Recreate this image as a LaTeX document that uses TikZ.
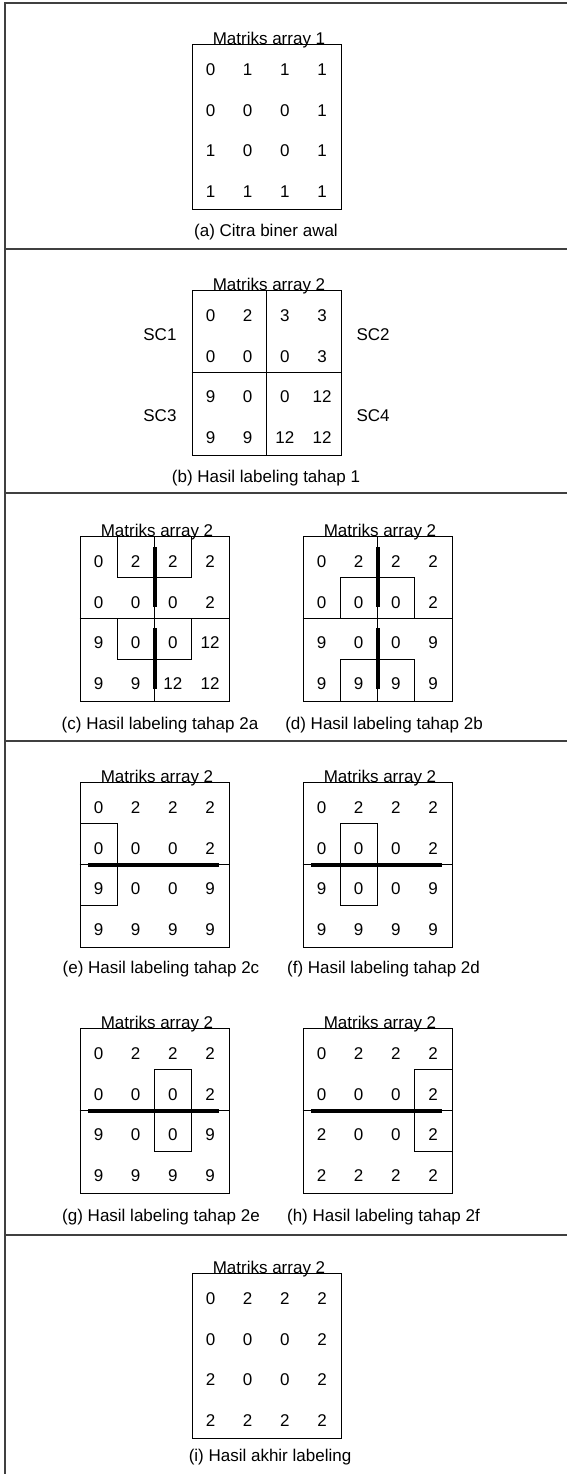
\documentclass[tikz,border=0pt]{standalone}
\usepackage{fontspec}
\setmainfont{Liberation Sans}
\usetikzlibrary{positioning}
\tikzstyle{mbox}=[draw, line width=0.9pt, minimum width=149pt, minimum height=165pt, inner sep=0pt]
\tikzstyle{cell}=[inner sep=0pt]
\tikzstyle{mtitle}=[anchor=base, inner sep=0pt]
\tikzstyle{capt}=[inner sep=0pt]
\tikzstyle{hilite}=[line width=0.9pt]
\tikzstyle{cutline}=[line width=4pt]
\tikzstyle{frame}=[line width=1.5pt, black!75]
% values of one 4x4 array, row by row
\newcommand{\gridvals}[2]{%
  \foreach \row [count=\i] in {#2} {
    \foreach \val [count=\j] in \row {
      \node[cell] (#1\i\j) at ({18.5+37.2*(\j-1)}, {25.5+40.7*(\i-1)}) {\val};
    }
  }
}

\begin{document}
\begin{tikzpicture}[x=1pt, y=-1pt, font=\fontsize{17}{20}\selectfont]
    \useasboundingbox (0,0) rectangle (567,1474);
    % outer frame and dividers
    \draw[frame] (5,1474) -- (5,3) -- (567,3);
    \foreach \y in {249,493,741,1235}
      \draw[frame] (5,\y) -- (567,\y);
    % (a)
    \begin{scope}[shift={(192,44)}]
    \node[mbox] (ma) at (74.5,82.5) {};
    \node[mtitle] (ta) at ([xshift=2.5pt,yshift=-1pt]ma.north) {Matriks array 1};
    \gridvals{a}{{0,1,1,1},{0,0,0,1},{1,0,0,1},{1,1,1,1}}
    \node[capt] (ca) at (74,188) {(a) Citra biner awal};
    \end{scope}
    % (b)
    \begin{scope}[shift={(192,290)}]
    \node[mbox] (mb) at (74.5,82.5) {};
    \draw[line width=0.9pt] (mb.north) -- (mb.south);
    \draw[line width=0.9pt] (mb.west) -- (mb.east);
    \node[mtitle] (tb) at ([xshift=2.5pt,yshift=-1pt]mb.north) {Matriks array 2};
    \gridvals{b}{{0,2,3,3},{0,0,0,3},{9,0,0,12},{9,9,12,12}}
    \node[anchor=east] (sc1) at (-12,45) {SC1};
    \node[anchor=west] (sc2) at (161,45) {SC2};
    \node[anchor=east] (sc3) at (-12,126) {SC3};
    \node[anchor=west] (sc4) at (161,126) {SC4};
    \node[capt] (cb) at (74,188) {(b) Hasil labeling tahap 1};
    \end{scope}
    % (c)
    \begin{scope}[shift={(80,536)}]
    \node[mbox] (mc) at (74.5,82.5) {};
    \draw[line width=0.9pt] (mc.north) -- (mc.south);
    \draw[line width=0.9pt] (mc.west) -- (mc.east);
    \draw[hilite] (37.25,0) rectangle (111.75,41.25);
    \draw[hilite] (37.25,82.5) rectangle (111.75,123.75);
    \draw[cutline] (74.5,11) -- (74.5,71);
    \draw[cutline] (74.5,92) -- (74.5,153);
    \node[mtitle] (tc) at ([xshift=2.5pt,yshift=-1pt]mc.north) {Matriks array 2};
    \gridvals{c}{{0,2,2,2},{0,0,0,2},{9,0,0,12},{9,9,12,12}}
    \node[capt] (cc) at (80,189) {(c) Hasil labeling tahap 2a};
    \end{scope}
    % (d)
    \begin{scope}[shift={(303,536)}]
    \node[mbox] (md) at (74.5,82.5) {};
    \draw[line width=0.9pt] (md.north) -- (md.south);
    \draw[line width=0.9pt] (md.west) -- (md.east);
    \draw[hilite] (37.25,41.25) rectangle (111.75,82.5);
    \draw[hilite] (37.25,123.75) rectangle (111.75,165);
    \draw[cutline] (74.5,11) -- (74.5,71);
    \draw[cutline] (74.5,92) -- (74.5,153);
    \node[mtitle] (td) at ([xshift=2.5pt,yshift=-1pt]md.north) {Matriks array 2};
    \gridvals{d}{{0,2,2,2},{0,0,0,2},{9,0,0,9},{9,9,9,9}}
    \node[capt] (cd) at (81,189) {(d) Hasil labeling tahap 2b};
    \end{scope}
    % (e)
    \begin{scope}[shift={(80,782)}]
    \node[mbox] (me) at (74.5,82.5) {};
    \draw[line width=0.9pt] (me.west) -- (me.east);
    \draw[hilite] (0,41.25) rectangle (37.25,123.75);
    \draw[cutline] (8,82.5) -- (139,82.5);
    \node[mtitle] (te) at ([xshift=2.5pt,yshift=-1pt]me.north) {Matriks array 2};
    \gridvals{e}{{0,2,2,2},{0,0,0,2},{9,0,0,9},{9,9,9,9}}
    \node[capt] (ce) at (81,187) {(e) Hasil labeling tahap 2c};
    \end{scope}
    % (f)
    \begin{scope}[shift={(303,782)}]
    \node[mbox] (mf) at (74.5,82.5) {};
    \draw[line width=0.9pt] (mf.west) -- (mf.east);
    \draw[hilite] (37.25,41.25) rectangle (74.5,123.75);
    \draw[cutline] (8,82.5) -- (139,82.5);
    \node[mtitle] (tf) at ([xshift=2.5pt,yshift=-1pt]mf.north) {Matriks array 2};
    \gridvals{f}{{0,2,2,2},{0,0,0,2},{9,0,0,9},{9,9,9,9}}
    \node[capt] (cf) at (80.5,187) {(f) Hasil labeling tahap 2d};
    \end{scope}
    % (g)
    \begin{scope}[shift={(80,1028)}]
    \node[mbox] (mg) at (74.5,82.5) {};
    \draw[line width=0.9pt] (mg.west) -- (mg.east);
    \draw[hilite] (74.5,41.25) rectangle (111.75,123.75);
    \draw[cutline] (8,82.5) -- (139,82.5);
    \node[mtitle] (tg) at ([xshift=2.5pt,yshift=-1pt]mg.north) {Matriks array 2};
    \gridvals{g}{{0,2,2,2},{0,0,0,2},{9,0,0,9},{9,9,9,9}}
    \node[capt] (cg) at (81,189) {(g) Hasil labeling tahap 2e};
    \end{scope}
    % (h)
    \begin{scope}[shift={(303,1028)}]
    \node[mbox] (mh) at (74.5,82.5) {};
    \draw[line width=0.9pt] (mh.west) -- (mh.east);
    \draw[hilite] (111.75,41.25) rectangle (149,123.75);
    \draw[cutline] (8,82.5) -- (139,82.5);
    \node[mtitle] (th) at ([xshift=2.5pt,yshift=-1pt]mh.north) {Matriks array 2};
    \gridvals{h}{{0,2,2,2},{0,0,0,2},{2,0,0,2},{2,2,2,2}}
    \node[capt] (ch) at (80.5,189) {(h) Hasil labeling tahap 2f};
    \end{scope}
    % (i)
    \begin{scope}[shift={(192,1273)}]
    \node[mbox] (mi) at (74.5,82.5) {};
    \node[mtitle] (ti) at ([xshift=2.5pt,yshift=-1pt]mi.north) {Matriks array 2};
    \gridvals{i}{{0,2,2,2},{0,0,0,2},{2,0,0,2},{2,2,2,2}}
    \node[capt] (ci) at (78,184) {(i) Hasil akhir labeling};
    \end{scope}
\end{tikzpicture}
\end{document}
